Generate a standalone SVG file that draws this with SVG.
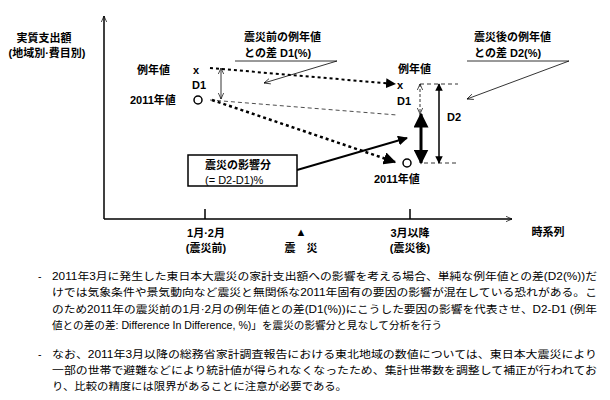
<svg xmlns="http://www.w3.org/2000/svg" width="610" height="400" viewBox="0 0 610 400">
<style>
text{font-family:"Liberation Sans","Noto Sans CJK JP",sans-serif;font-size:11px;fill:#000}
.b{font-weight:bold}
.c{text-anchor:middle}
.p{font-size:10.5px}
</style>
<defs>
<marker id="f" viewBox="0 0 10 10" refX="9" refY="5" markerWidth="5" markerHeight="5" orient="auto-start-reverse"><path d="M0,0L10,5L0,10z" fill="#000"/></marker>
<marker id="o" viewBox="0 0 10 10" refX="9" refY="5" markerWidth="7" markerHeight="7" orient="auto-start-reverse" markerUnits="userSpaceOnUse"><path d="M0,1L9,5L0,9" fill="none" stroke="#000" stroke-width="1"/></marker>
</defs>
<rect width="610" height="400" fill="#fff"/>
<g id="axes" stroke="#000" stroke-width="1.5" fill="none">
<path d="M104,219V16" marker-end="url(#o)"/>
<path d="M104,219H512" marker-end="url(#o)"/>
<path d="M205,209V219M410,209V219"/>
</g>
<g id="connectors" stroke="#000" fill="none">
<path d="M210,68L395,84" stroke-width="2" stroke-dasharray="3,3" marker-end="url(#f)"/>
<path d="M210,100L397,115" stroke-width="0.7" stroke-dasharray="4,3"/>
<path d="M212,100L395,162" stroke-width="2.5" stroke-dasharray="3,3" marker-end="url(#f)"/>
<path d="M221,68V99" stroke-width="0.8" marker-start="url(#o)" marker-end="url(#o)"/>
<path d="M420,84V114" stroke-width="0.8" stroke-dasharray="3,2" marker-start="url(#o)" marker-end="url(#o)"/>
<path d="M421,114V163" stroke-width="3" marker-start="url(#f)" marker-end="url(#f)"/>
<path d="M439,84V163" stroke-width="1.5" marker-start="url(#f)" marker-end="url(#f)"/>
<path d="M420,84H458M424,163H458" stroke-width="0.8" stroke-dasharray="4,3"/>
<path d="M297,170L407,138" stroke-width="2" marker-end="url(#f)"/>
<path d="M235,61H337L264,83" stroke-width="0.8" marker-end="url(#o)"/>
<path d="M467,61H569L467,99" stroke-width="0.8" marker-end="url(#o)"/>
</g>
<g id="yLabel"><text class="b c" x="44" y="42">実質支出額</text><text class="b c" x="47" y="57">(地域別·費目別)</text></g>
<g id="before">
<text class="b" x="137" y="74">例年値</text><text class="b" x="193" y="74">x</text>
<text class="b" x="192" y="89">D1</text>
<text class="b" x="130" y="104">2011年値</text>
<circle cx="198" cy="100" r="4" fill="none" stroke="#000" stroke-width="1.5"/>
</g>
<g id="after">
<text class="b" x="398" y="73">例年値</text><text class="b" x="397" y="89">x</text>
<text class="b" x="397" y="105">D1</text>
<circle cx="407" cy="163" r="4" fill="none" stroke="#000" stroke-width="1.5"/>
<text class="b" x="374" y="183">2011年値</text>
<text class="b" x="447" y="121">D2</text>
</g>
<g id="callout1"><text class="b" x="244" y="41">震災前の例年値</text><text class="b" x="244" y="57">との差  D1(%)</text></g>
<g id="callout2"><text class="b" x="474" y="41">震災後の例年値</text><text class="b" x="474" y="57">との差  D2(%)</text></g>
<g id="impact">
<rect x="188" y="155" width="109" height="31" fill="#fff" stroke="#000" stroke-width="1.5"/>
<text class="b" x="205" y="169">震災の影響分</text><text x="205" y="184">(= D2-D1)%</text>
</g>
<g id="xLabels">
<text class="b c" x="206" y="237">1月·2月</text><text class="b c" x="206" y="252">(震災前)</text>
<text class="b c" x="301" y="236">▲</text><text class="b c" x="301" y="252">震　災</text>
<text class="b c" x="410" y="237">3月以降</text><text class="b c" x="410" y="252">(震災後)</text>
<text class="b c" x="548" y="236">時系列</text>
</g>
<g id="notes">
<text class="p" x="38" y="280">-</text>
<text class="p" x="52" y="280" textLength="545" lengthAdjust="spacingAndGlyphs">2011年3月に発生した東日本大震災の家計支出額への影響を考える場合、単純な例年値との差(D2(%))だ</text>
<text class="p" x="52" y="296" textLength="545" lengthAdjust="spacingAndGlyphs">けでは気象条件や景気動向など震災と無関係な2011年固有の要因の影響が混在している恐れがある。こ</text>
<text class="p" x="52" y="313" textLength="545" lengthAdjust="spacingAndGlyphs">のため2011年の震災前の1月·2月の例年値との差(D1(%))にこうした要因の影響を代表させ、D2-D1 (例年</text>
<text class="p" x="52" y="329" textLength="390" lengthAdjust="spacingAndGlyphs">値との差の差: Difference In Difference, %)」を震災の影響分と見なして分析を行う</text>
<text class="p" x="38" y="358">-</text>
<text class="p" x="52" y="358" textLength="545" lengthAdjust="spacingAndGlyphs">なお、2011年3月以降の総務省家計調査報告における東北地域の数値については、東日本大震災により</text>
<text class="p" x="52" y="374" textLength="545" lengthAdjust="spacingAndGlyphs">一部の世帯で避難などにより統計値が得られなくなったため、集計世帯数を調整して補正が行われてお</text>
<text class="p" x="52" y="390" textLength="295" lengthAdjust="spacingAndGlyphs">り、比較の精度には限界があることに注意が必要である。</text>
</g>
</svg>
